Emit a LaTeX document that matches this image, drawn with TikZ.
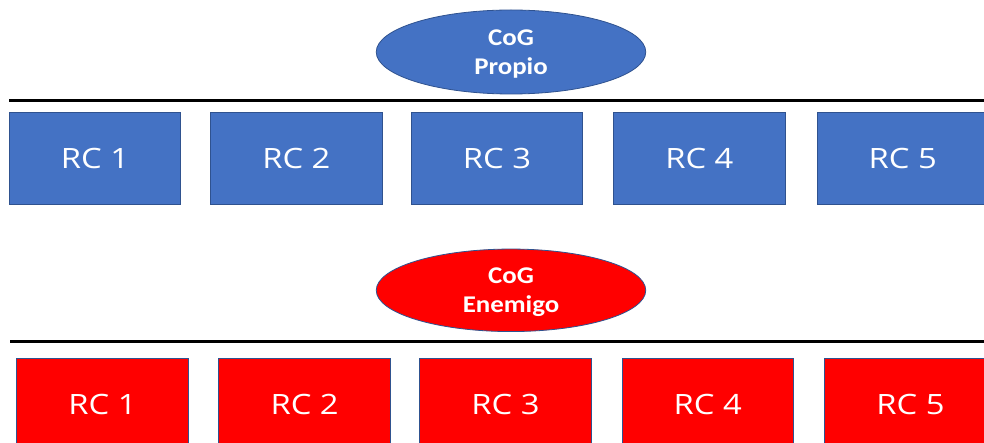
\documentclass[tikz,border=0pt]{standalone}
\usepackage{fontspec}
\setmainfont[FakeStretch=1.17]{Open Sans}
\newfontfamily\cogfont[FakeStretch=1.12]{Carlito}
\usetikzlibrary{shapes.geometric}
\definecolor{boxblue}{HTML}{4472C4}
\definecolor{edgeblue}{HTML}{2F528F}
\definecolor{boxred}{HTML}{FF0000}
\begin{document}
\begin{tikzpicture}[x=1pt,y=-1pt,
  rcbox/.style={draw=edgeblue, line width=0.8pt, minimum width=171.5pt, minimum height=92pt, inner sep=0pt, text=white, font=\fontsize{28}{34}\selectfont},
  cogell/.style={ellipse, draw=edgeblue, line width=0.8pt, minimum width=269.5pt, minimum height=84pt, inner sep=0pt, text=white, align=center, text depth=0pt, font=\cogfont\bfseries\fontsize{24}{29.5}\selectfont},
  rule/.style={line width=3pt, black}]
\useasboundingbox (0,0) rectangle (984,443);
\clip (0,0) rectangle (984,443);
\fill[white] (0,0) rectangle (984,443);
% top group
\node[cogell, fill=boxblue] (cogP) at (511,52) {CoG\\Propio};
\coordinate (tl) at (9,101);
\coordinate (tr) at (990,101);
\draw[rule] (tl) -- (tr);
\node[rcbox, fill=boxblue] (b1) at (95.0,158.8) {RC 1};
\node[rcbox, fill=boxblue] (b2) at (296.4,158.8) {RC 2};
\node[rcbox, fill=boxblue] (b3) at (497.0,158.8) {RC 3};
\node[rcbox, fill=boxblue] (b4) at (699.4,158.8) {RC 4};
\node[rcbox, fill=boxblue] (b5) at (902.8,158.8) {RC 5};
% bottom group
\node[cogell, fill=boxred, minimum height=82.5pt] (cogE) at (511,290.3) {CoG\\Enemigo};
\coordinate (bl) at (10,341.7);
\coordinate (br) at (990,341.7);
\draw[rule] (bl) -- (br);
\node[rcbox, fill=boxred] (r1) at (102.5,404.3) {RC 1};
\node[rcbox, fill=boxred] (r2) at (304.6,404.3) {RC 2};
\node[rcbox, fill=boxred] (r3) at (505.5,404.3) {RC 3};
\node[rcbox, fill=boxred] (r4) at (707.7,404.3) {RC 4};
\node[rcbox, fill=boxred] (r5) at (910.5,404.3) {RC 5};
\end{tikzpicture}
\end{document}
